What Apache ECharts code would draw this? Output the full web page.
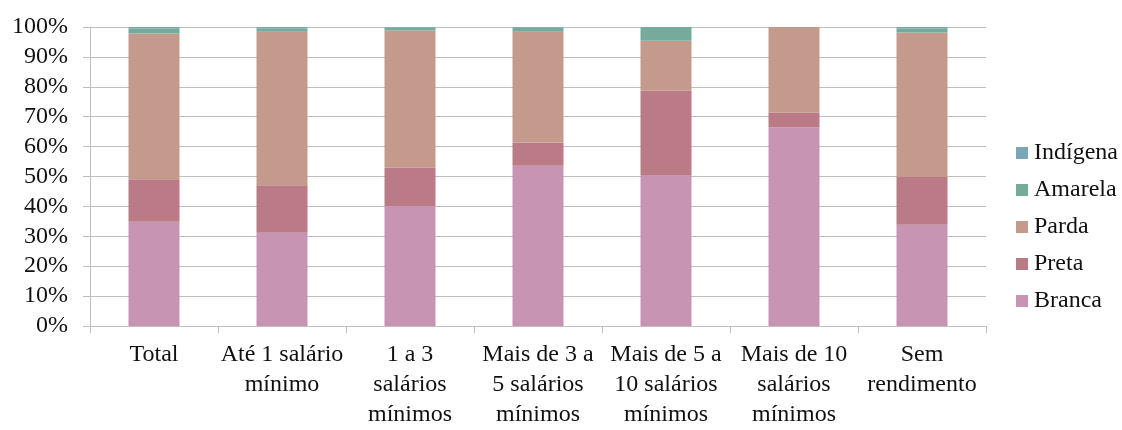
<!DOCTYPE html>
<html>
<head>
<meta charset="utf-8">
<script src="https://cdn.jsdelivr.net/npm/echarts@6/dist/echarts.min.js"></script>
<style>
  html, body { margin: 0; padding: 0; background: #ffffff; }
  #chart { width: 1122px; height: 430px; }
</style>
</head>
<body>
<div id="chart"></div>
<script>
// Income brackets (line breaks as printed under each column)
const categories = [
  'Total',
  'Até 1 salário\nmínimo',
  '1 a 3\nsalários\nmínimos',
  'Mais de 3 a\n5 salários\nmínimos',
  'Mais de 5 a\n10 salários\nmínimos',
  'Mais de 10\nsalários\nmínimos',
  'Sem\nrendimento'
];

// Share (%) of each colour/race group per bracket
const branca   = [34.9, 31.2, 40.1, 53.6, 50.5, 66.5, 33.9];
const preta    = [14.2, 15.9, 12.8,  7.8, 28.2,  4.8, 15.9];
const parda    = [48.7, 51.3, 45.9, 37.0, 16.7, 28.7, 48.4];
const amarela  = [ 1.8,  1.2,  1.0,  1.4,  4.6,  0.0,  1.4];
const indigena = [ 0.4,  0.4,  0.2,  0.2,  0.0,  0.0,  0.4];

const yTicks = { min: 0, max: 100, interval: 10 };

const seriesDefs = [
  { name: 'Branca',   data: branca,   color: '#C794B4' },
  { name: 'Preta',    data: preta,    color: '#BA7A86' },
  { name: 'Parda',    data: parda,    color: '#C39A8C' },
  { name: 'Amarela',  data: amarela,  color: '#76AB9C' },
  { name: 'Indígena', data: indigena, color: '#7AA7B8' }
];

const font = '"Liberation Serif", "Times New Roman", serif';
const gridColor = '#BFBFBF';

const chart = echarts.init(document.getElementById('chart'), null, { renderer: 'canvas' });

chart.setOption({
  animation: false,
  backgroundColor: '#ffffff',
  textStyle: { fontFamily: font },
  grid: { left: 90, right: 136, top: 27, bottom: 104, containLabel: false },
  legend: {
    orient: 'vertical',
    left: 1011,
    top: 136,
    itemWidth: 12,
    itemHeight: 12,
    itemGap: 13,
    icon: 'rect',
    data: ['Indígena', 'Amarela', 'Parda', 'Preta', 'Branca'],
    textStyle: { fontFamily: font, fontSize: 24, lineHeight: 24, color: '#111111', padding: [0, 0, 0, 1] }
  },
  xAxis: {
    type: 'category',
    data: categories,
    axisLine: { show: true, lineStyle: { color: gridColor, width: 1 } },
    axisTick: { show: true, length: 7, lineStyle: { color: gridColor } },
    axisLabel: {
      interval: 0,
      margin: 14,
      fontFamily: font,
      fontSize: 24,
      lineHeight: 30,
      color: '#111111',
      align: 'center'
    }
  },
  yAxis: {
    type: 'value',
    min: yTicks.min,
    max: yTicks.max,
    interval: yTicks.interval,
    axisLine: { show: true, lineStyle: { color: gridColor, width: 1 } },
    axisTick: { show: true, length: 7, lineStyle: { color: gridColor } },
    splitLine: { show: true, lineStyle: { color: gridColor, width: 1 } },
    axisLabel: {
      formatter: '{value}%',
      margin: 22,
      fontFamily: font,
      fontSize: 24,
      color: '#111111'
    }
  },
  series: seriesDefs.map(s => ({
    name: s.name,
    type: 'bar',
    stack: 'total',
    barWidth: 51,
    data: s.data,
    itemStyle: { color: s.color },
    emphasis: { disabled: true }
  }))
});
</script>
</body>
</html>
